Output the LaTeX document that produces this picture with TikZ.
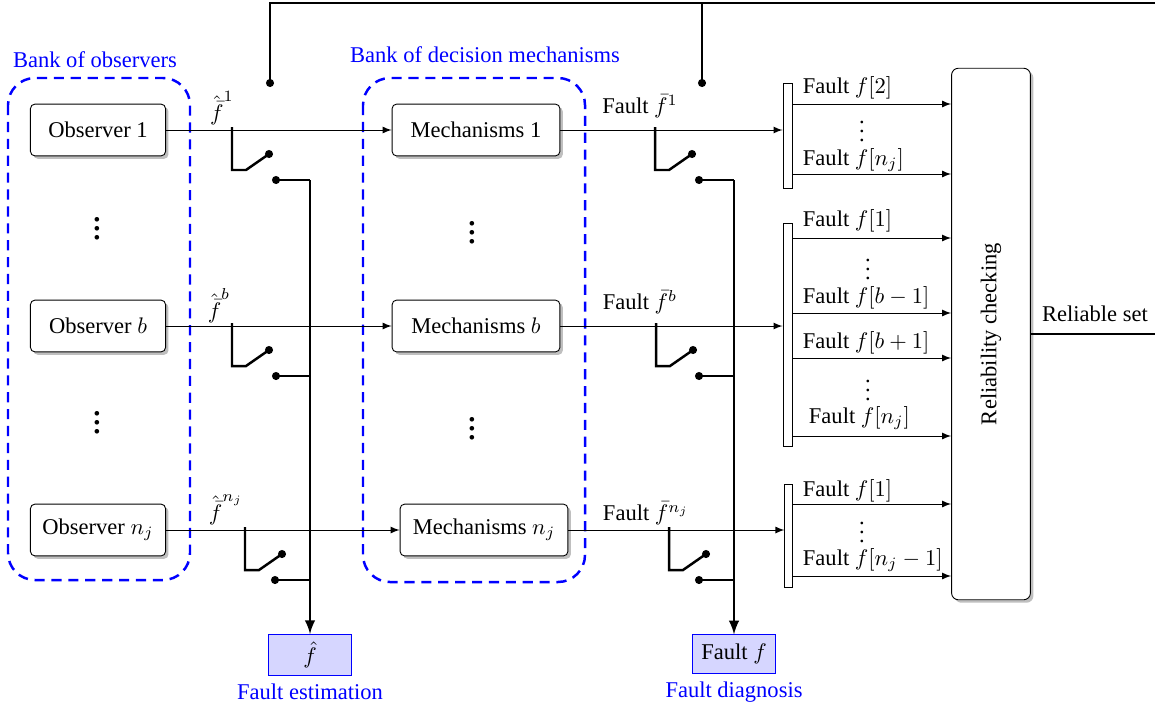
\documentclass[tikz,border=0pt]{standalone}
\usepackage[no-math]{fontspec}
\IfFontExistsTF{LiberationSerif-Regular.ttf}
  {\setmainfont{LiberationSerif-Regular.ttf}[ItalicFont=LiberationSerif-Italic.ttf]}
  {\setmainfont{Liberation Serif}}
\usetikzlibrary{shadows,positioning}

\tikzset{
  blockbox/.style={draw, rounded corners=2pt, fill=white,
    drop shadow={shadow xshift=1.3pt, shadow yshift=-1.3pt, fill=black!25, opacity=1},
    minimum height=23pt},
  obsbox/.style={blockbox, minimum width=60pt},
  mechbox/.style={blockbox, minimum width=74.5pt},
  bankbox/.style={draw=blue, line width=1.1pt, dash pattern=on 4.5pt off 3pt, rounded corners=12pt},
  banklabel/.style={text=blue},
  outbox/.style={draw=blue, fill=blue!16, minimum width=37pt, minimum height=17pt},
  splitbar/.style={draw, fill=white, inner sep=0pt, minimum width=4pt},
  bus/.style={line width=1.1pt},
  sig/.style={-latex},
  bigdots/.style={font=\LARGE},
}

\begin{document}
\begin{tikzpicture}[x=0.444pt, y=-0.444pt]
\useasboundingbox (0,0) rectangle (1155,704);

	% the two banks
	\draw[bankbox] (8,78) rectangle (190,580);
	\draw[bankbox] (363,78) rectangle (585,582);
	\node[banklabel] (obslabel) at (95,60) {Bank of observers};
	\node[banklabel] (mechlabel) at (485,55) {Bank of decision mechanisms};

	\node[obsbox] (obs1) at (98,130) {Observer 1};
	\node[obsbox] (obsb) at (98,326) {Observer $b$};
	\node[obsbox] (obsn) at (98,530) {Observer $n_j$};
	\node[bigdots] (odots1) at (97,222) {$\vdots$};
	\node[bigdots] (odots2) at (97,416) {$\vdots$};

	\node[mechbox] (mech1) at (476,130) {Mechanisms 1};
	\node[mechbox] (mechb) at (476,326) {Mechanisms $b$};
	\node[mechbox] (mechn) at (484,530) {Mechanisms $n_j$};
	\node[bigdots] (mdots1) at (472,226) {$\vdots$};
	\node[bigdots] (mdots2) at (472,422) {$\vdots$};

	\draw[sig] (obs1) -- (mech1);
	\draw[sig] (obsb) -- (mechb);
	\draw[sig] (obsn) -- (mechn);
   \node (fh1) at (222,108) {$\hat{\bar{f}}^{1}$};
   \node (fhb) at (219,306) {$\hat{\bar{f}}^{b}$};
   \node (fhn) at (226,510) {$\hat{\bar{f}}^{n_j}$};

	% splitting bars
	\node[splitbar, minimum height=46.6pt] (bar1) at (787.5,135.5) {};
	\node[splitbar, minimum height=99pt] (bar2) at (787.5,334.5) {};
	\node[splitbar, minimum height=46pt, minimum width=3.2pt] (bar3) at (788.5,536) {};

	\draw[sig] (mech1) -- (mech1 -| bar1.west);
	\draw[sig] (mechb) -- (mechb -| bar2.west);
	\draw[sig] (mechn) -- (mechn -| bar3.west);
   \node (fb1) at (640,106) {Fault $\bar{f}^{1}$};
   \node (fbb) at (640,302) {Fault $\bar{f}^{b}$};
   \node (fbn) at (646,513) {Fault $\bar{f}^{n_j}$};

	\node[blockbox, rounded corners=3pt, minimum width=35pt, minimum height=236pt] (rel) at (991,334) {\rotatebox{90}{Reliability checking}};

	\foreach \yy in {104,174} \draw[sig] (bar1.east |- 0,\yy) -- (rel.west |- 0,\yy);
	\foreach \yy in {238,313,358,436} \draw[sig] (bar2.east |- 0,\yy) -- (rel.west |- 0,\yy);
	\foreach \yy in {504,576} \draw[sig] (bar3.east |- 0,\yy) -- (rel.west |- 0,\yy);

   \node[anchor=west] at (795,88) {Fault $f[2]$};
   \node at (862,125) {$\vdots$};
   \node[anchor=west] at (795,160) {Fault $f[n_j]$};
   \node[anchor=west] at (795,221) {Fault $f[1]$};
   \node at (868,263) {$\vdots$};
   \node[anchor=west] at (795,298) {Fault $f[b-1]$};
   \node[anchor=west] at (795,343) {Fault $f[b+1]$};
   \node at (868,384) {$\vdots$};
   \node[anchor=west] at (801,418) {Fault $f[n_j]$};
   \node[anchor=west] at (795,491) {Fault $f[1]$};
   \node at (862,526) {$\vdots$};
   \node[anchor=west] at (795,560) {Fault $f[n_j-1]$};

	% outputs
	\node[outbox] (fest) at (310,655) {$\hat{f}$};
	\node[outbox] (fdiag) at (734,654) {Fault $f$};
	\node[banklabel, below=0pt of fest] (festlabel) {Fault estimation};
	\node[banklabel, below=0pt of fdiag] (fdiaglabel) {Fault diagnosis};

	% switches
	\foreach \x/\y/\d/\b in {232/130/44/310, 232/326/44/310, 245/530/30/310,
	                         655/130/44/734, 656/326/43/734, 669/530/30/734} {
	  \draw[bus] (\x,\y-3) -- (\x,\y+40) -- (\x+14,\y+40) -- (\x+37,\y+24);
	  \fill (\x+37,\y+24) circle (1.8pt);
	  \fill (\x+\d,\y+50) circle (1.8pt);
	  \draw[bus] (\x+\d,\y+50) -- (\b,\y+50);
	}
	\draw[bus, sig] (fest.north |- 0,180) -- (fest.north);
	\draw[bus, sig] (fdiag.north |- 0,180) -- (fdiag.north);

	% control and reliable set
	\coordinate (ctrl1) at (270,83);
	\coordinate (ctrl2) at (702,83);
	\coordinate (topright) at (1175,3);
	\draw[bus] (rel.east) -| (topright) -| (ctrl1);
	\draw[bus] (ctrl2) -- (ctrl2 |- topright);
	\fill (ctrl1) circle (1.8pt);
	\fill (ctrl2) circle (1.8pt);
   \node (relset) at (1095,314) {Reliable set};
\end{tikzpicture}
\end{document}
